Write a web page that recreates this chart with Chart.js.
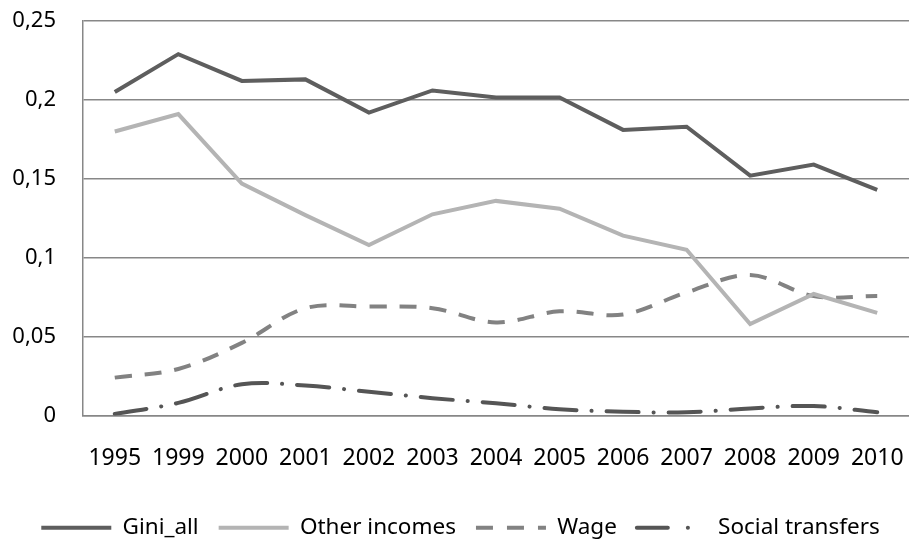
<!DOCTYPE html>
<html>
<head>
<meta charset="utf-8">
<script src="https://cdn.jsdelivr.net/npm/chart.js@4"></script>
<style>
  html, body { margin: 0; padding: 0; background: #fff; }
  #wrap { width: 909px; height: 540px; }
</style>
</head>
<body>
<div id="wrap"><canvas id="myChart"></canvas></div>
<script>
const years = ['1995', '1999', '2000', '2001', '2002', '2003', '2004', '2005', '2006', '2007', '2008', '2009', '2010'];

const giniAll = [0.205, 0.229, 0.212, 0.213, 0.192, 0.206, 0.2015, 0.2015, 0.181, 0.183, 0.152, 0.159, 0.143];
const otherIncomes = [0.180, 0.191, 0.147, 0.127, 0.108, 0.1275, 0.136, 0.131, 0.114, 0.105, 0.058, 0.077, 0.065];
const wage = [0.024, 0.0295, 0.046, 0.068, 0.069, 0.068, 0.059, 0.066, 0.064, 0.078, 0.089, 0.0757, 0.0757];
const socialTransfers = [0.001, 0.008, 0.0198, 0.019, 0.015, 0.011, 0.0077, 0.004, 0.0024, 0.002, 0.0045, 0.006, 0.002];

const yTicks = [0, 0.05, 0.1, 0.15, 0.2, 0.25];

const fontFam = '"Noto Sans", sans-serif';
const gridColor = '#878787';

const info = {
    labels: years,
    datasets: [
        {
            label: 'Gini_all',
            data: giniAll,
            borderColor: '#5e5e5e',
            backgroundColor: '#5e5e5e',
            borderWidth: 4,
            tension: 0
        },
        {
            label: 'Other incomes',
            data: otherIncomes,
            borderColor: '#b4b4b4',
            backgroundColor: '#b4b4b4',
            borderWidth: 4,
            tension: 0
        },
        {
            label: 'Wage',
            data: wage,
            borderColor: '#828282',
            backgroundColor: '#828282',
            borderWidth: 4,
            borderDash: [17, 13],
            tension: 0.35
        },
        {
            label: 'Social transfers',
            data: socialTransfers,
            borderColor: '#555555',
            backgroundColor: '#555555',
            borderWidth: 4,
            borderDash: [32, 15, 0.1, 15],
            borderCapStyle: 'round',
            tension: 0.35
        }
    ]
};

// legend with point style reads the point style, so copy line dash/width from the datasets
const legendDash = [[], [], [17, 14], [31, 20, 0.1, 40]];
function legendLabels(chart) {
    const items = Chart.defaults.plugins.legend.labels.generateLabels(chart);
    items.forEach(it => {
        const ds = chart.data.datasets[it.datasetIndex];
        it.lineWidth = ds.borderWidth;
        it.lineDash = legendDash[it.datasetIndex];
        it.lineCap = ds.borderCapStyle || 'butt';
        it.strokeStyle = ds.borderColor;
    });
    return items;
}

const config = {
    type: 'line',
    data: info,
    options: {
        responsive: true,
        maintainAspectRatio: false,
        animation: false,
        layout: { padding: { left: 12, right: 0, top: 0, bottom: -9 } },
        elements: { point: { radius: 0, hoverRadius: 0 } },
        scales: {
            x: {
                offset: true,
                afterFit: axis => {
                    axis.height = 81;
                    axis.paddingLeft = 0;
                    axis.paddingRight = 0;
                },
                grid: { display: false, drawTicks: false },
                border: { display: true, color: gridColor, width: 1.5 },
                ticks: {
                    color: '#000',
                    padding: 29,
                    maxRotation: 0,
                    autoSkip: false,
                    font: { family: fontFam, size: 23 }
                }
            },
            y: {
                min: 0,
                max: 0.25,
                afterBuildTicks: axis => {
                    axis.ticks = yTicks.map(v => ({ value: v }));
                },
                afterFit: axis => {
                    axis.width = 71;
                    axis.paddingTop = 21;
                    axis.paddingBottom = 0;
                },
                grid: { color: gridColor, lineWidth: 1.5, drawTicks: false },
                border: { display: true, color: gridColor, width: 1.5 },
                ticks: {
                    color: '#000',
                    padding: 27,
                    font: { family: fontFam, size: 22 },
                    callback: v => String(v).replace('.', ',')
                }
            }
        },
        plugins: {
            legend: {
                position: 'bottom',
                labels: {
                    usePointStyle: true,
                    pointStyle: 'line',
                    pointStyleWidth: 70,
                    color: '#000',
                    padding: 20,
                    font: { family: fontFam, size: 22.5 },
                    generateLabels: legendLabels
                }
            },
            tooltip: { enabled: false }
        }
    }
};

const myChart = new Chart(
    document.getElementById('myChart'),
    config
);
</script>
</body>
</html>
